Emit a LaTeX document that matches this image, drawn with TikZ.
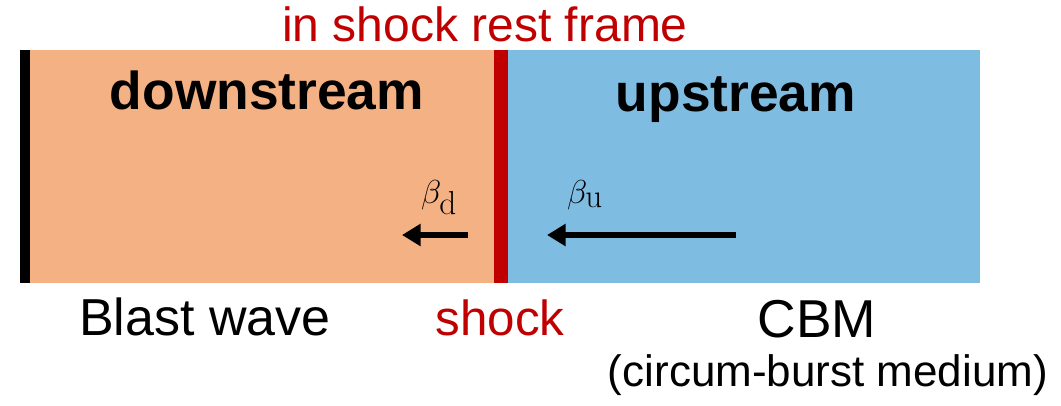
\documentclass[tikz,border=0pt]{standalone}
\usepackage{amsmath,bm}
\usepackage[no-math]{fontspec}
\setmainfont{Liberation Sans}
\usetikzlibrary{arrows.meta}
\definecolor{downc}{HTML}{F4B183}
\definecolor{upc}{HTML}{7FBCE2}
\definecolor{shockred}{HTML}{C00000}
\tikzset{
  region/.style={draw=none, inner sep=0pt, outer sep=0pt},
  lbl/.style={inner sep=0pt, anchor=base},
  flow/.style={line width=5.2pt, -{Triangle[length=14pt,width=16pt]}},
}
\begin{document}
\begin{tikzpicture}[x=0.75pt,y=-0.75pt]
\useasboundingbox (0,0) rectangle (1061,405);
% regions
\fill[downc] (30,50) rectangle (494,283);
\fill[upc] (508,50) rectangle (980,283);
\fill[shockred] (494,50) rectangle (508,283);
\fill[black] (20,50) rectangle (30,283);
% texts
\node[lbl, text=shockred, font=\fontsize{36pt}{40pt}\selectfont] (title) at (485,41) {in shock rest frame};
\node[lbl, font=\fontsize{40pt}{44pt}\selectfont\bfseries] (down) at (267,109) {downstream};
\node[lbl, font=\fontsize{40pt}{44pt}\selectfont\bfseries] (up) at (736,111) {upstream};
\node[lbl, font=\fontsize{34pt}{38pt}\selectfont] (bd) at (439,203) {$\beta_{\mathrm{d}}$};
\node[lbl, font=\fontsize{34pt}{38pt}\selectfont] (bu) at (585,203) {$\beta_{\mathrm{u}}$};
\node[lbl, font=\fontsize{39pt}{43pt}\selectfont] (blast) at (205,335) {Blast wave};
\node[lbl, text=shockred, font=\fontsize{37pt}{41pt}\selectfont] (shock) at (500,335) {shock};
\node[lbl, font=\fontsize{40pt}{44pt}\selectfont] (cbm) at (817,337) {CBM};
\node[lbl, font=\fontsize{33pt}{37pt}\selectfont] (cbmfull) at (828,386) {(circum-burst medium)};
% arrows
\coordinate (ds) at (468,235);
\coordinate (de) at (402,235);
\coordinate (us) at (736,235);
\coordinate (ue) at (547,235);
\draw[flow] (ds) -- (de);
\draw[flow] (us) -- (ue);
\end{tikzpicture}
\end{document}
